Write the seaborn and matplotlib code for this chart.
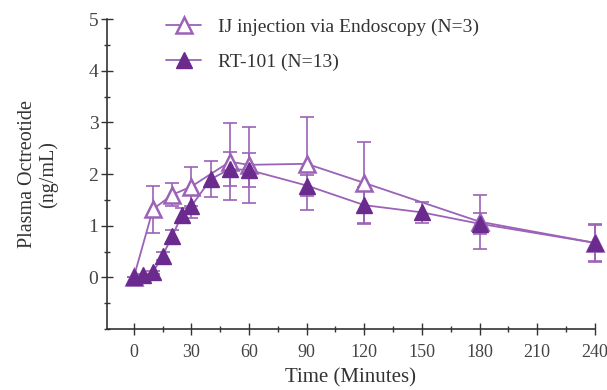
import numpy as np
import pandas as pd
import matplotlib
matplotlib.use("Agg")
import matplotlib.pyplot as plt
import seaborn as sns
from matplotlib.ticker import MultipleLocator

ij_time = [0, 10, 20, 30, 50, 60, 90, 120, 180, 240]
ij_mean = [0, 1.32, 1.60, 1.76, 2.24, 2.18, 2.20, 1.83, 1.08, 0.67]
ij_err = [0, 0.45, 0.22, 0.37, 0.75, 0.73, 0.90, 0.80, 0.52, 0.35]

rt_time = [0, 5, 10, 15, 20, 25, 30, 40, 50, 60, 90, 120, 150, 180, 240]
rt_mean = [0, 0.05, 0.10, 0.42, 0.80, 1.20, 1.38, 1.90, 2.10, 2.08, 1.78, 1.40, 1.26, 1.04, 0.67]
rt_err = [0, 0.02, 0.03, 0.08, 0.12, 0.15, 0.22, 0.35, 0.33, 0.33, 0.20, 0.35, 0.20, 0.20, 0.37]

labels = ["IJ injection via Endoscopy (N=3)", "RT-101 (N=13)"]
x_ticks = [0, 30, 60, 90, 120, 150, 180, 210, 240]
y_ticks = [0, 1, 2, 3, 4, 5]

sns.set_style("white")
plt.rcParams['font.family'] = ['Liberation Serif', 'DejaVu Serif']

light = "#9c62b8"
dark = "#6a2a8e"

fig = plt.figure(figsize=(6.07, 3.90), dpi=100)
ax = fig.add_axes([0.176, 0.156, 0.804, 0.795])

df_ij = pd.DataFrame({"t": ij_time, "c": ij_mean})
df_rt = pd.DataFrame({"t": rt_time, "c": rt_mean})

for tt, mm, ee in [(ij_time, ij_mean, ij_err), (rt_time, rt_mean, rt_err)]:
    eb = ax.errorbar(tt, mm, yerr=ee, fmt='none', ecolor=light,
                     elinewidth=1.2, capsize=5, capthick=1.2, zorder=2)
    for art in list(eb.lines[1]) + list(eb.lines[2]):
        art.set_clip_on(False)

sns.lineplot(data=df_ij, x="t", y="c", ax=ax, color=light, lw=1.3,
             marker="^", markersize=11, markerfacecolor="white",
             markeredgecolor=light, markeredgewidth=1.8, label=labels[0],
             zorder=3, clip_on=False)
sns.lineplot(data=df_rt, x="t", y="c", ax=ax, color=light, lw=1.3,
             marker="^", markersize=11, markerfacecolor=dark,
             markeredgecolor=dark, markeredgewidth=1.0, label=labels[1],
             zorder=4, clip_on=False)

ax.set_xlim(-14, 240)
ax.set_ylim(-1, 5)
ax.set_xticks(x_ticks)
ax.set_yticks(y_ticks)
ax.xaxis.set_minor_locator(MultipleLocator(15))
ax.yaxis.set_minor_locator(MultipleLocator(0.5))
ax.tick_params(axis='both', which='both', bottom=True, left=True)
ax.tick_params(axis='both', which='major', direction='inout', length=8, width=1,
               color='#333333', labelsize=14, labelcolor='#444444')
ax.tick_params(axis='both', which='minor', direction='inout', length=5, width=1,
               color='#333333')
ax.tick_params(axis='x', pad=7, labelsize=13)
ax.tick_params(axis='y', pad=2)

for s in ['top', 'right']:
    ax.spines[s].set_visible(False)
for s in ['left', 'bottom']:
    ax.spines[s].set_color('#333333')
    ax.spines[s].set_linewidth(1.2)

ax.set_xlabel("Time (Minutes)", fontsize=15, color='#333333', labelpad=5)
ax.set_ylabel("Plasma Octreotide\n(ng/mL)", fontsize=14.5, color='#333333',
              labelpad=22, linespacing=1.1)

leg = ax.legend(loc='upper left', bbox_to_anchor=(0.086, 1.06), frameon=False,
                fontsize=14, handlelength=1.8, handletextpad=0.85,
                labelspacing=0.9, labelcolor='#333333')

fig.savefig("out.png", dpi=100)
